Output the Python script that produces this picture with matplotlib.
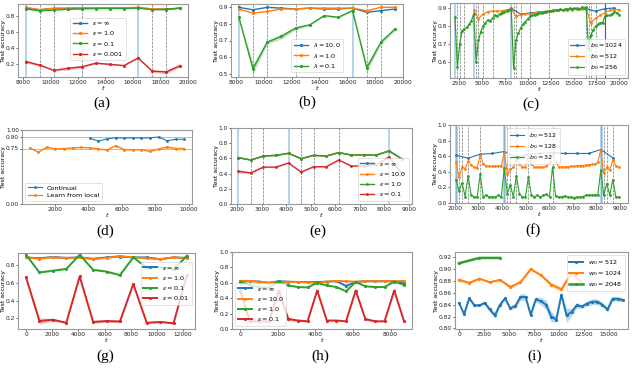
import numpy as np
import matplotlib
matplotlib.use("Agg")
import matplotlib.pyplot as plt

# ---- data ----
# (a) epsilon sweep
a_t = [8192, 9216, 10240, 11264, 12288, 13312, 14336, 15360, 16384, 17408, 18432, 19456]
a_inf = [0.900, 0.880, 0.895, 0.895, 0.900, 0.900, 0.900, 0.900, 0.905, 0.885, 0.880, 0.900]
a_1 = [0.910, 0.880, 0.900, 0.900, 0.905, 0.900, 0.905, 0.900, 0.910, 0.890, 0.890, 0.900]
a_01 = [0.890, 0.865, 0.875, 0.885, 0.890, 0.895, 0.895, 0.895, 0.900, 0.880, 0.885, 0.900]
a_0001 = [0.230, 0.185, 0.120, 0.145, 0.165, 0.210, 0.195, 0.180, 0.275, 0.110, 0.100, 0.180]
a_0001_sd = [0.020, 0.012, 0.008, 0.020, 0.012, 0.010, 0.008, 0.008, 0.006, 0.015, 0.022, 0.018]
a_blue_ev = [8192, 16384]
a_gray_ev = [9216, 10240, 12288, 17408, 18432]

# (b) lambda sweep
b_t = a_t
b_10 = [0.900, 0.885, 0.900, 0.895, 0.890, 0.895, 0.890, 0.890, 0.895, 0.870, 0.880, 0.890]
b_1 = [0.890, 0.865, 0.875, 0.890, 0.890, 0.895, 0.895, 0.895, 0.895, 0.880, 0.900, 0.900]
b_01 = [0.840, 0.530, 0.690, 0.725, 0.775, 0.795, 0.850, 0.840, 0.880, 0.535, 0.690, 0.770]
b_01_sd = [0.005, 0.030, 0.012, 0.015, 0.010, 0.005, 0.005, 0.005, 0.005, 0.025, 0.012, 0.008]

# (c) batch size b0
c_t_1024 = [8192, 9216, 10240, 11264, 12288, 13312, 14336, 15360, 16384, 17408, 18432, 19456]
c_1024 = [0.900, 0.868, 0.874, 0.880, 0.885, 0.889, 0.893, 0.895, 0.898, 0.884, 0.898, 0.902]
c_t_512 = [4096, 4608, 5120, 5632, 6144, 6656, 7168, 7680, 8192, 8704, 9216, 9728, 10240, 10752,
           11264, 11776, 12288, 12800, 13312, 13824, 14336, 14848, 15360, 15872, 16384, 16896,
           17408, 17920, 18432, 18944, 19456, 19968]
c_512 = [0.888, 0.843, 0.868, 0.882, 0.885, 0.885, 0.886, 0.892, 0.897, 0.855, 0.864, 0.867,
         0.870, 0.874, 0.878, 0.882, 0.884, 0.887, 0.889, 0.890, 0.891, 0.893, 0.894, 0.896,
         0.898, 0.818, 0.845, 0.862, 0.876, 0.888, 0.893, 0.892]
c_t_256 = [2048, 2304, 2560, 2816, 3072, 3328, 3584, 3840, 4096, 4352, 4608, 4864, 5120, 5376,
           5632, 5888, 6144, 6400, 6656, 6912, 7168, 7424, 7680, 7936, 8192, 8448, 8704, 8960,
           9216, 9472, 9728, 9984, 10240, 10496, 10752, 11008, 11264, 11520, 11776, 12032,
           12288, 12544, 12800, 13056, 13312, 13568, 13824, 14080, 14336, 14592, 14848, 15104,
           15360, 15616, 15872, 16128, 16384, 16640, 16896, 17152, 17408, 17664, 17920, 18176,
           18432, 18688, 18944, 19200, 19456, 19712, 19968]
c_256 = [0.850, 0.570, 0.700, 0.775, 0.785, 0.795, 0.810, 0.830, 0.870, 0.600, 0.720, 0.770,
         0.800, 0.820, 0.835, 0.830, 0.845, 0.860, 0.855, 0.870, 0.875, 0.880, 0.885, 0.890,
         0.895, 0.565, 0.720, 0.760, 0.790, 0.810, 0.825, 0.840, 0.855, 0.860, 0.865, 0.870,
         0.875, 0.875, 0.880, 0.880, 0.885, 0.885, 0.890, 0.890, 0.890, 0.895, 0.890, 0.895,
         0.895, 0.900, 0.895, 0.900, 0.900, 0.895, 0.905, 0.900, 0.905, 0.670, 0.750, 0.780,
         0.800, 0.810, 0.820, 0.820, 0.855, 0.860, 0.860, 0.870, 0.880, 0.875, 0.865]
c_blue_ev = [2048, 4096, 8192]
c_gray_ev = [2304, 2560, 3072, 4352, 4608, 5120, 6144, 8448, 8704, 9216, 10240, 12288,
             16384, 16640, 16896, 17408]
c_dark_ev = [18432]

# (d) continual vs. learn from local
d_t_cont = [4096, 4608, 5120, 5632, 6144, 6656, 7168, 7680, 8192, 8704, 9216, 9728]
d_cont = [0.890, 0.850, 0.880, 0.895, 0.890, 0.895, 0.890, 0.895, 0.905, 0.855, 0.875, 0.875]
d_t_local = [512, 1024, 1536, 2048, 2560, 3072, 3584, 4096, 4608, 5120, 5632, 6144, 6656,
             7168, 7680, 8192, 8704, 9216, 9728]
d_local = [0.760, 0.700, 0.770, 0.745, 0.750, 0.760, 0.765, 0.760, 0.745, 0.730, 0.790, 0.735,
           0.735, 0.735, 0.710, 0.745, 0.770, 0.750, 0.750]
d_local_sd = [0.005, 0.008, 0.006, 0.006, 0.005, 0.005, 0.005, 0.006, 0.008, 0.010, 0.012,
              0.020, 0.012, 0.010, 0.008, 0.012, 0.018, 0.015, 0.015]
d_hlines = [0.90, 0.75]

# (e) epsilon sweep
e_t = [2048, 2560, 3072, 3584, 4096, 4608, 5120, 5632, 6144, 6656, 7168, 7680, 8192, 8704]
e_inf = [0.610, 0.580, 0.630, 0.640, 0.667, 0.596, 0.640, 0.630, 0.676, 0.644, 0.644, 0.644, 0.698, 0.596]
e_10 = [0.610, 0.578, 0.631, 0.640, 0.667, 0.596, 0.640, 0.631, 0.676, 0.644, 0.644, 0.644, 0.698, 0.596]
e_1 = [0.609, 0.578, 0.631, 0.640, 0.667, 0.596, 0.640, 0.631, 0.676, 0.644, 0.644, 0.644, 0.698, 0.596]
e_01 = [0.430, 0.410, 0.485, 0.485, 0.540, 0.420, 0.490, 0.490, 0.578, 0.500, 0.500, 0.515, 0.620, 0.410]
e_01_sd = [0.025, 0.008, 0.005, 0.005, 0.005, 0.005, 0.005, 0.005, 0.005, 0.005, 0.005, 0.005, 0.005, 0.005]
e_blue_ev = [2048, 4096, 8192]
e_gray_ev = [2560, 3072, 4608, 5120, 6144]

# (f) batch size b0
f_t_512 = [2048, 2560, 3072, 3584, 4096, 4608, 5120, 5632, 6144, 6656, 7168, 7680, 8192, 8704]
f_512 = [0.610, 0.575, 0.625, 0.635, 0.660, 0.585, 0.625, 0.635, 0.645, 0.635, 0.635, 0.635, 0.685, 0.580]
f_t_small = [2048, 2176, 2304, 2432, 2560, 2688, 2816, 2944, 3072, 3200, 3328, 3456, 3584, 3712,
             3840, 3968, 4096, 4224, 4352, 4480, 4608, 4736, 4864, 4992, 5120, 5248, 5376, 5504,
             5632, 5760, 5888, 6016, 6144, 6272, 6400, 6528, 6656, 6784, 6912, 7040, 7168, 7296,
             7424, 7552, 7680, 7808, 7936, 8064, 8192, 8320, 8448, 8576, 8704, 8832, 8960]
f_128 = [0.520, 0.330, 0.460, 0.440, 0.535, 0.490, 0.460, 0.455, 0.620, 0.500, 0.475, 0.470,
         0.470, 0.475, 0.475, 0.480, 0.650, 0.370, 0.430, 0.460, 0.560, 0.500, 0.460, 0.465,
         0.620, 0.500, 0.465, 0.460, 0.460, 0.465, 0.470, 0.520, 0.630, 0.520, 0.465, 0.460,
         0.465, 0.465, 0.470, 0.470, 0.475, 0.480, 0.480, 0.485, 0.490, 0.495, 0.500, 0.520,
         0.680, 0.380, 0.460, 0.420, 0.550, 0.480, 0.460]
f_32 = [0.300, 0.150, 0.260, 0.080, 0.350, 0.100, 0.080, 0.075, 0.370, 0.080, 0.100, 0.075,
        0.080, 0.075, 0.100, 0.075, 0.450, 0.120, 0.230, 0.080, 0.350, 0.120, 0.080, 0.075,
        0.330, 0.100, 0.080, 0.100, 0.080, 0.100, 0.110, 0.080, 0.460, 0.090, 0.075, 0.080,
        0.090, 0.075, 0.075, 0.070, 0.075, 0.075, 0.080, 0.100, 0.105, 0.100, 0.105, 0.100,
        0.420, 0.100, 0.250, 0.100, 0.300, 0.080, 0.075]
f_blue_ev = [2048, 2100, 4096, 4130, 8192, 8240]
f_gray_ev = [2176, 2304, 2560, 3072, 4224, 4352, 4608, 5120, 6144, 8320, 8448, 8704]

# (g) epsilon sweep
g_t = [0, 1024, 2048, 3072, 4096, 5120, 6144, 7168, 8192, 9216, 10240, 11264, 12288]
g_inf = [0.890, 0.880, 0.895, 0.885, 0.890, 0.875, 0.890, 0.900, 0.890, 0.890, 0.870, 0.890, 0.885]
g_1 = [0.890, 0.875, 0.890, 0.880, 0.890, 0.870, 0.885, 0.905, 0.890, 0.880, 0.870, 0.890, 0.880]
g_01 = [0.920, 0.720, 0.740, 0.760, 0.920, 0.750, 0.730, 0.690, 0.890, 0.775, 0.780, 0.755, 0.910]
g_01_sd = [0.003, 0.008, 0.008, 0.006, 0.003, 0.008, 0.010, 0.012, 0.003, 0.008, 0.008, 0.010, 0.003]
g_001 = [0.665, 0.170, 0.185, 0.150, 0.675, 0.160, 0.170, 0.165, 0.590, 0.150, 0.160, 0.145, 0.690]
g_001_sd = [0.003, 0.035, 0.015, 0.006, 0.003, 0.020, 0.012, 0.015, 0.003, 0.010, 0.010, 0.008, 0.003]

# (h) epsilon sweep
h_t = [0, 512, 1024, 1536, 2048, 2560, 3072, 3584, 4096, 4608, 5120, 5632, 6144, 6656, 7168,
       7680, 8192, 8704]
h_inf = [0.620, 0.620, 0.615, 0.600, 0.620, 0.615, 0.610, 0.610, 0.610, 0.615, 0.620, 0.560,
         0.610, 0.620, 0.620, 0.620, 0.620, 0.600]
h_10 = [0.625, 0.625, 0.615, 0.600, 0.615, 0.610, 0.610, 0.605, 0.600, 0.615, 0.625, 0.620,
        0.615, 0.620, 0.620, 0.620, 0.620, 0.625]
h_1 = [0.615, 0.570, 0.545, 0.535, 0.620, 0.565, 0.545, 0.540, 0.600, 0.565, 0.545, 0.490,
       0.610, 0.555, 0.545, 0.545, 0.615, 0.575]
h_01 = [0.500, 0.100, 0.100, 0.100, 0.500, 0.130, 0.110, 0.100, 0.500, 0.110, 0.110, 0.100,
        0.500, 0.130, 0.100, 0.100, 0.500, 0.110]
h_01_sd = [0.003, 0.010, 0.005, 0.005, 0.003, 0.025, 0.012, 0.008, 0.003, 0.008, 0.008, 0.006,
           0.003, 0.020, 0.010, 0.006, 0.003, 0.008]

# (i) window size w0
i_t_512 = [0, 512, 1024, 1536, 2048, 2560, 3072, 3584, 4096, 4608, 5120, 5632, 6144, 6656,
           7168, 7680, 8192, 8704, 9216, 9728, 10240, 10752, 11264, 11776, 12288, 12800,
           13312, 13824, 14336, 14848, 15360, 15872, 16384]
i_512 = [0.843, 0.824, 0.851, 0.839, 0.839, 0.843, 0.832, 0.822, 0.840, 0.851, 0.834, 0.838,
         0.853, 0.853, 0.823, 0.849, 0.846, 0.840, 0.820, 0.815, 0.857, 0.822, 0.828, 0.839,
         0.837, 0.842, 0.845, 0.845, 0.840, 0.832, 0.850, 0.850, 0.848]
i_512_sd = [0.002, 0.002, 0.003, 0.003, 0.002, 0.003, 0.004, 0.005, 0.004, 0.003, 0.003, 0.004,
            0.006, 0.005, 0.003, 0.005, 0.006, 0.008, 0.009, 0.004, 0.003, 0.012, 0.006, 0.005,
            0.003, 0.004, 0.005, 0.005, 0.004, 0.004, 0.004, 0.004, 0.003]
i_t_1024 = [0, 1024, 2048, 3072, 4096, 5120, 6144, 7168, 8192, 9216, 10240, 11264, 12288]
i_1024 = [0.882, 0.877, 0.884, 0.878, 0.882, 0.870, 0.878, 0.900, 0.890, 0.874, 0.866, 0.894, 0.877]
i_1024_sd = [0.003, 0.002, 0.002, 0.002, 0.002, 0.003, 0.002, 0.002, 0.002, 0.004, 0.004, 0.002, 0.002]
i_t_2048 = [0, 2048, 4096]
i_2048 = [0.910, 0.919, 0.919]


def add_panel(x0, y0, x1, y1):
    # pixel box -> figure fraction
    ax = fig.add_axes([x0 / 640, 1 - y1 / 378, (x1 - x0) / 640, (y1 - y0) / 378])
    for s in ax.spines.values():
        s.set_color("#999999")
        s.set_linewidth(0.8)
    ax.tick_params(labelsize=4.2, length=1.5, width=0.5, pad=0.6, colors="#222222")
    ax.set_xlabel("$t$", fontsize=4.6, labelpad=-0.5)
    ax.set_ylabel("Test accuracy", fontsize=4.4, labelpad=0)
    return ax


def line(ax, x, y, color, label, sd=None, lw=1.0, ms=2.5, z=2):
    ax.plot(x, y, color=color, lw=lw, marker=".", ms=ms, label=label, zorder=z)
    if sd is not None:
        y = np.array(y)
        sd = np.array(sd)
        ax.fill_between(x, y - sd, y + sd, color=color, alpha=0.3, lw=0, zorder=z)


def events(ax, blue=(), gray=(), dark=()):
    for v in blue:
        ax.axvline(v, color="C0", lw=1.3, alpha=0.35, zorder=1)
    for v in gray:
        ax.axvline(v, color="#555555", lw=0.5, ls="--", alpha=0.8, zorder=1)
    for v in dark:
        ax.axvline(v, color="#1f4e79", lw=0.8, alpha=0.9, zorder=1)


def legend(ax, **kw):
    lg = ax.legend(fontsize=4.6, handlelength=2.2, borderpad=0.4, labelspacing=0.35, **kw)
    lg.get_frame().set_linewidth(0.5)
    return lg


def caption(x, y, s):
    fig.text(x / 640, 1 - y / 378, s, ha="center", va="center",
             family="Liberation Serif", fontsize=11)


fig = plt.figure(figsize=(6.4, 3.78), dpi=100)

# (a)
ax = add_panel(18, 4, 188, 77)
events(ax, a_blue_ev, a_gray_ev)
line(ax, a_t, a_inf, "C0", r"$\varepsilon=\infty$")
line(ax, a_t, a_1, "C1", r"$\varepsilon=1.0$")
line(ax, a_t, a_01, "C2", r"$\varepsilon=0.1$")
line(ax, a_t, a_0001, "C3", r"$\varepsilon=0.001$", sd=a_0001_sd)
ax.set_xticks([8000, 10000, 12000, 14000, 16000, 18000, 20000])
ax.set_yticks([0.2, 0.4, 0.6, 0.8])
legend(ax, loc="center", bbox_to_anchor=(0.47, 0.52))
caption(102, 103, "(a)")

# (b)
ax = add_panel(231, 4, 403, 77)
events(ax, a_blue_ev, a_gray_ev)
line(ax, b_t, b_10, "C0", r"$\lambda=10.0$")
line(ax, b_t, b_1, "C1", r"$\lambda=1.0$")
line(ax, b_t, b_01, "C2", r"$\lambda=0.1$", sd=b_01_sd)
ax.set_xticks([8000, 10000, 12000, 14000, 16000, 18000, 20000])
ax.set_yticks([0.5, 0.6, 0.7, 0.8, 0.9])
legend(ax, loc="lower center", bbox_to_anchor=(0.5, 0.02))
caption(307, 102, "(b)")

# (c)
ax = add_panel(450, 3, 628, 78)
events(ax, c_blue_ev, c_gray_ev, c_dark_ev)
line(ax, c_t_1024, c_1024, "C0", r"$b_0=1024$", lw=0.9, ms=2)
line(ax, c_t_512, c_512, "C1", r"$b_0=512$", lw=0.9, ms=2)
line(ax, c_t_256, c_256, "C2", r"$b_0=256$", lw=0.9, ms=2)
ax.set_xlim(1500, 20950)
ax.set_ylim(0.51, 0.93)
ax.set_xticks([2500, 5000, 7500, 10000, 12500, 15000, 17500, 20000])
ax.set_yticks([0.6, 0.7, 0.8, 0.9])
legend(ax, loc="lower right")
caption(531, 104, "(c)")

# (d)
ax = add_panel(22, 130, 192, 204)
for h in d_hlines:
    ax.axhline(h, color="C0", lw=0.6, alpha=0.5, zorder=1)
line(ax, d_t_cont, d_cont, "C0", "Continual", lw=0.8, ms=2)
line(ax, d_t_local, d_local, "C1", "Learn from local", sd=d_local_sd, lw=0.9, ms=2)
ax.set_ylim(0, 1.0)
ax.set_yticks([0.0, 0.75, 0.90, 1.0])
ax.set_yticklabels(["0.00", "0.75", "0.90", "1.00"])
ax.set_xticks([2000, 4000, 6000, 8000, 10000])
legend(ax, loc="lower left")
caption(105, 231, "(d)")

# (e)
ax = add_panel(231, 128, 412, 204)
events(ax, e_blue_ev, e_gray_ev)
line(ax, e_t, e_inf, "C0", r"$\varepsilon=\infty$", ms=2)
line(ax, e_t, e_10, "C1", r"$\varepsilon=10.0$", ms=2)
line(ax, e_t, e_1, "C2", r"$\varepsilon=1.0$", ms=2)
line(ax, e_t, e_01, "C3", r"$\varepsilon=0.1$", sd=e_01_sd, ms=2)
ax.set_xlim(1750, 9130)
ax.set_ylim(0, 1.0)
ax.set_xticks([2000, 3000, 4000, 5000, 6000, 7000, 8000, 9000])
ax.set_yticks([0.0, 0.2, 0.4, 0.6, 0.8, 1.0])
legend(ax, loc="lower right")
caption(318, 231, "(e)")

# (f)
ax = add_panel(450, 125, 628, 203)
events(ax, f_blue_ev, f_gray_ev)
line(ax, f_t_512, f_512, "C0", r"$b_0=512$", lw=0.8, ms=2)
line(ax, f_t_small, f_128, "C1", r"$b_0=128$", lw=0.8, ms=2)
line(ax, f_t_small, f_32, "C2", r"$b_0=32$", lw=0.8, ms=2)
ax.set_xlim(1790, 9350)
ax.set_ylim(0, 1.0)
ax.set_xticks([2000, 3000, 4000, 5000, 6000, 7000, 8000, 9000])
ax.set_yticks([0.0, 0.2, 0.4, 0.6, 0.8, 1.0])
legend(ax, loc="upper center", bbox_to_anchor=(0.47, 1.0))
caption(533, 230, "(f)")

# (g)
ax = add_panel(18, 253, 195, 329)
line(ax, g_t, g_inf, "C0", r"$\varepsilon=\infty$", lw=1.4)
line(ax, g_t, g_1, "C1", r"$\varepsilon=1.0$", lw=1.4)
line(ax, g_t, g_01, "C2", r"$\varepsilon=0.1$", sd=g_01_sd, lw=1.4)
line(ax, g_t, g_001, "C3", r"$\varepsilon=0.01$", sd=g_001_sd, lw=1.4)
ax.set_ylim(0.08, 0.94)
ax.set_xticks([0, 2000, 4000, 6000, 8000, 10000, 12000])
ax.set_yticks([0.2, 0.4, 0.6, 0.8])
legend(ax, loc="center right", bbox_to_anchor=(1.0, 0.6))
caption(105, 356, "(g)")

# (h)
ax = add_panel(232, 252, 412, 329)
line(ax, h_t, h_inf, "C0", r"$\varepsilon=\infty$", lw=1.4)
line(ax, h_t, h_10, "C1", r"$\varepsilon=10.0$", lw=1.4)
line(ax, h_t, h_1, "C2", r"$\varepsilon=1.0$", lw=1.4)
line(ax, h_t, h_01, "C3", r"$\varepsilon=0.1$", sd=h_01_sd, lw=1.4)
ax.set_ylim(0, 1.0)
ax.set_xticks([0, 2000, 4000, 6000, 8000])
ax.set_yticks([0.0, 0.2, 0.4, 0.6, 0.8, 1.0])
legend(ax, loc="lower left")
caption(320, 356, "(h)")

# (i)
ax = add_panel(455, 252, 628, 329)
line(ax, i_t_512, i_512, "C0", r"$w_0=512$", sd=i_512_sd, lw=1.4)
line(ax, i_t_1024, i_1024, "C1", r"$w_0=1024$", sd=i_1024_sd, lw=1.4)
line(ax, i_t_2048, i_2048, "C2", r"$w_0=2048$", lw=1.8)
ax.set_xlim(-400, 16900)
ax.set_ylim(0.799, 0.929)
ax.set_xticks([0, 2500, 5000, 7500, 10000, 12500, 15000])
ax.set_yticks([0.80, 0.82, 0.84, 0.86, 0.88, 0.90, 0.92])
legend(ax, loc="upper right")
caption(535, 356, "(i)")

fig.savefig("out.png", dpi=100)
